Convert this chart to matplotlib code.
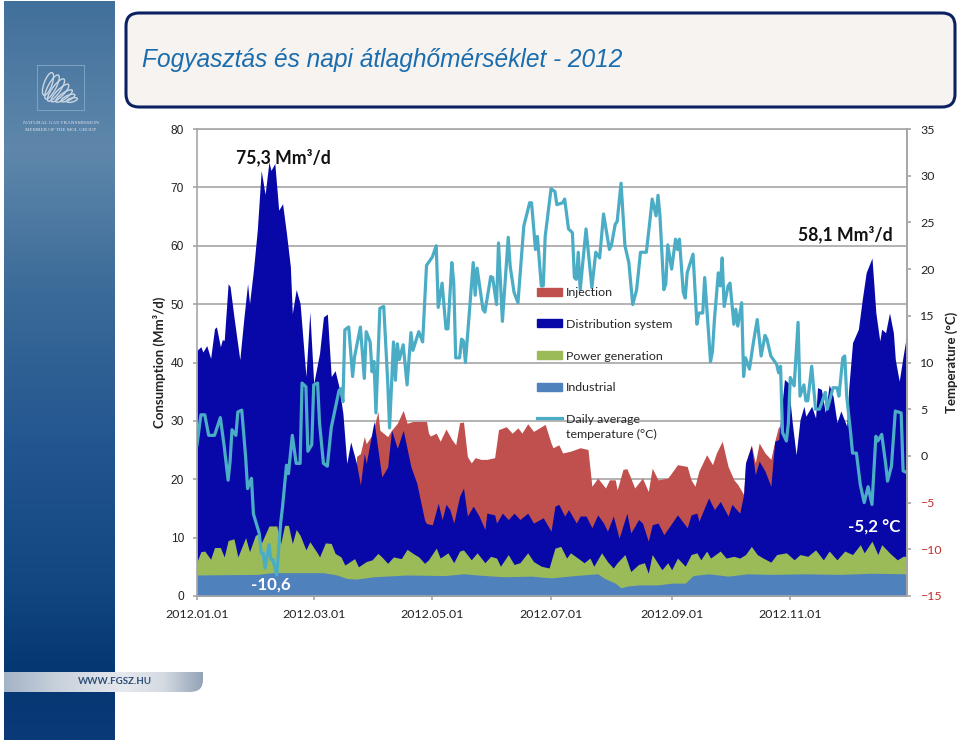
import matplotlib
matplotlib.use('Agg')
import matplotlib.pyplot as plt
import numpy as np
import pandas as pd
from matplotlib.colors import LinearSegmentedColormap
from matplotlib.lines import Line2D
from matplotlib.patches import Ellipse, FancyBboxPatch, PathPatch, Patch, Rectangle
from matplotlib.path import Path

plt.rcParams['font.family'] = ['Lato', 'DejaVu Sans']

# (day of 2012, value) - every series, stacked tops in Mm3/d
injection_top = [
    (82, 23.9), (84, 24.4), (86, 27.3), (87, 26.1), (90, 27.6), (93, 31.6), (94, 28.4), (98, 27.3),
    (100, 28.4), (103, 29.6), (106, 31.8), (108, 29.6), (111, 29.9), (113, 29.9), (118, 29.9), (119, 27.9),
    (120, 27.4), (123, 27.9), (125, 26.5), (128, 28.6), (131, 26.8), (133, 25.9), (135, 29.7), (137, 29.8),
    (139, 23.9), (141, 22.8), (143, 23.7), (146, 23.4), (149, 23.4), (153, 23.7), (155, 28.5), (159, 29.0),
    (162, 27.9), (165, 28.8), (167, 27.9), (170, 29.5), (173, 28.2), (176, 28.8), (179, 29.4), (182, 26.2),
    (183, 25.4), (186, 25.9), (188, 24.5), (192, 24.8), (197, 25.4), (201, 25.1), (203, 18.8), (206, 20.2),
    (210, 18.5), (212, 19.9), (215, 19.9), (216, 18.2), (219, 21.7), (221, 21.8), (223, 20.2), (225, 18.5),
    (229, 20.2), (232, 17.9), (234, 21.9), (237, 19.9), (242, 20.2), (244, 21.1), (247, 22.5), (252, 22.2),
    (254, 19.9), (256, 18.8), (258, 21.4), (262, 24.2), (265, 22.5), (267, 24.5), (270, 26.5), (273, 22.2),
    (276, 19.9), (278, 19.1), (281, 17.4), (282, 22.8), (285, 25.9), (287, 22.8), (289, 26.2), (292, 24.5),
    (295, 23.4), (297, 26.5), (299, 29.1), (301, 27.9),
]

distribution_top = [
    (0, 42.1), (2, 42.7), (3, 41.8), (5, 42.9), (7, 40.7), (9, 45.8), (10, 46.1), (12, 42.7), (13, 43.9),
    (14, 43.8), (16, 53.5), (17, 53.0), (19, 47.8), (22, 40.5), (24, 47.3), (26, 53.5), (27, 50.1), (29, 55.8),
    (31, 62.7), (33, 72.9), (35, 68.8), (37, 74.4), (38, 72.9), (40, 74.1), (42, 66.1), (44, 67.2), (46, 62.1),
    (48, 56.4), (49, 48.4), (51, 52.5), (53, 50.1), (56, 37.6), (58, 48.7), (60, 36.4), (63, 41.6), (65, 47.8),
    (67, 48.3), (69, 37.6), (71, 38.6), (73, 35.8), (75, 31.3), (77, 22.7), (79, 26.4), (82, 22.7), (84, 19.0),
    (86, 24.4), (87, 22.7), (91, 29.9), (95, 20.4), (98, 22.1), (100, 28.4), (103, 25.3), (106, 28.4), (110, 22.1),
    (113, 19.3), (117, 13.0), (118, 12.4), (121, 12.2), (124, 15.9), (126, 13.1), (128, 15.7), (130, 14.8),
    (132, 12.5), (135, 17.1), (137, 18.5), (139, 13.7), (142, 15.4), (145, 13.7), (148, 11.4), (149, 14.2),
    (153, 13.9), (154, 12.5), (157, 14.2), (160, 13.1), (163, 14.2), (166, 13.1), (170, 14.2), (173, 12.5),
    (178, 13.4), (182, 11.1), (184, 15.4), (186, 15.7), (189, 13.7), (191, 14.8), (195, 12.5), (197, 13.7),
    (200, 13.7), (203, 11.7), (206, 13.9), (209, 12.5), (211, 11.1), (214, 13.7), (217, 9.9), (221, 14.2),
    (223, 10.8), (227, 13.1), (229, 12.5), (232, 9.4), (234, 12.2), (237, 12.5), (240, 10.5), (247, 13.9),
    (252, 11.7), (254, 13.9), (257, 14.2), (258, 12.8), (263, 16.8), (266, 14.8), (269, 16.2), (273, 13.7),
    (275, 15.7), (279, 14.2), (281, 17.4), (282, 22.8), (285, 25.7), (287, 20.8), (289, 23.1), (292, 21.4),
    (295, 18.8), (297, 26.5), (299, 26.8), (302, 37.1), (304, 36.5), (306, 29.7), (308, 24.2), (310, 30.2),
    (312, 32.5), (313, 30.8), (316, 32.5), (318, 30.5), (319, 35.7), (321, 35.4), (323, 31.4), (325, 36.2),
    (327, 34.2), (329, 29.7), (331, 31.7), (334, 29.1), (335, 35.4), (337, 43.4), (340, 45.7), (342, 50.8),
    (344, 55.4), (347, 57.9), (349, 48.5), (351, 43.7), (352, 45.7), (354, 45.1), (356, 48.5), (358, 45.1),
    (359, 40.5), (361, 36.8), (363, 41.1), (365, 45.1),
]

power_top = [
    (0, 5.9), (2, 7.6), (4, 7.7), (7, 6.3), (9, 8.3), (12, 8.3), (14, 6.7), (16, 9.5), (19, 9.8), (21, 6.7),
    (25, 10.0), (27, 7.6), (30, 10.4), (32, 10.7), (33, 9.0), (37, 12.0), (41, 12.0), (43, 9.0), (45, 12.1),
    (47, 12.1), (49, 9.0), (51, 11.4), (53, 10.4), (56, 7.9), (58, 9.3), (62, 7.3), (63, 6.7), (66, 9.1),
    (69, 9.0), (71, 7.3), (74, 6.7), (76, 5.3), (81, 6.4), (83, 5.0), (87, 5.9), (90, 6.2), (93, 7.3), (95, 6.7),
    (98, 5.6), (101, 6.7), (105, 6.4), (108, 8.0), (111, 7.3), (114, 6.7), (117, 5.6), (119, 6.2), (123, 8.2),
    (125, 6.5), (129, 7.4), (132, 5.7), (135, 7.7), (137, 7.9), (141, 6.2), (144, 7.4), (148, 5.7), (151, 6.8),
    (154, 6.5), (156, 5.1), (160, 7.1), (163, 5.4), (166, 5.7), (170, 7.4), (173, 5.9), (177, 5.1), (181, 4.8),
    (184, 8.2), (187, 8.5), (190, 6.5), (192, 7.4), (197, 6.2), (199, 5.7), (202, 6.5), (204, 5.1), (208, 7.4),
    (211, 5.9), (214, 4.8), (216, 5.7), (220, 7.1), (223, 4.2), (227, 5.4), (230, 5.7), (232, 3.9), (234, 7.1),
    (239, 4.5), (242, 5.7), (244, 4.5), (247, 6.5), (251, 5.1), (254, 7.1), (257, 7.4), (259, 6.2), (262, 7.7),
    (264, 6.5), (269, 7.7), (272, 6.5), (276, 6.8), (279, 6.5), (282, 7.1), (285, 8.5), (288, 7.1), (291, 6.5),
    (295, 5.8), (298, 7.1), (303, 7.4), (307, 6.2), (310, 7.1), (314, 6.8), (318, 7.9), (322, 6.2), (325, 7.7),
    (329, 6.2), (333, 7.7), (337, 7.1), (341, 8.8), (343, 7.4), (347, 9.4), (350, 7.1), (352, 8.8), (356, 7.4),
    (360, 6.2), (363, 6.8), (365, 6.8),
]

industrial_top = [
    (0, 3.6), (31, 3.7), (39, 4.0), (65, 4.0), (72, 3.6), (77, 3.0), (82, 2.9), (91, 3.3), (108, 3.6), (127, 3.5),
    (137, 3.8), (148, 3.5), (158, 3.3), (172, 3.4), (182, 3.1), (194, 3.5), (206, 3.8), (209, 3.1), (215, 2.2),
    (218, 1.4), (221, 1.7), (227, 1.9), (237, 1.9), (244, 2.2), (251, 2.2), (255, 3.5), (263, 3.8), (273, 3.4),
    (283, 3.8), (295, 3.7), (313, 3.8), (330, 3.7), (347, 3.9), (365, 3.8),
]

temperature = [
    (0, 1.2), (2, 4.4), (4, 4.4), (6, 2.2), (9, 2.2), (12, 4.1), (14, 1.0), (16, -2.6), (17, -0.6), (18, 2.8),
    (20, 2.2), (21, 4.7), (23, 4.9), (25, -0.1), (26, -3.5), (28, -2.4), (29, -6.2), (32, -8.3), (33, -10.4),
    (34, -10.4), (35, -12.0), (37, -9.5), (38, -11.1), (39, -11.1), (41, -12.75), (43, -7.2), (44, -5.4), (46, -1.0),
    (47, -1.9), (49, 2.2), (51, -0.8), (53, -0.8), (54, 7.8), (56, 7.4), (57, 0.5), (59, 1.2), (60, 7.6), (62, 7.8),
    (63, 3.5), (65, -0.8), (67, -1.1), (69, 3.0), (73, 7.0), (74, 7.2), (75, 5.8), (76, 13.5), (78, 13.8), (80, 8.5),
    (81, 10.6), (84, 13.8), (86, 8.3), (87, 13.3), (89, 12.2), (90, 9.0), (91, 10.1), (92, 4.6), (94, 15.8), (96, 16.0),
    (98, 8.1), (99, 3.0), (101, 12.2), (102, 8.1), (103, 12.0), (104, 10.3), (106, 11.9), (108, 7.6), (110, 13.2),
    (111, 11.3), (114, 13.3), (116, 12.2), (118, 20.4), (121, 21.3), (123, 22.5), (124, 15.9), (126, 18.5), (128, 13.6),
    (129, 13.6), (131, 20.7), (132, 18.5), (133, 10.5), (135, 10.5), (136, 12.5), (137, 12.3), (138, 10.0), (142, 20.7),
    (143, 17.2), (144, 20.1), (147, 15.7), (148, 15.4), (151, 19.2), (152, 19.1), (154, 16.2), (155, 22.8), (157, 14.4),
    (160, 23.4), (161, 20.3), (163, 17.5), (165, 16.4), (168, 24.6), (171, 27.1), (172, 27.1), (174, 22.1), (175, 23.5),
    (177, 18.2), (178, 18.2), (179, 23.5), (182, 28.6), (184, 28.3), (185, 26.9), (188, 27.1), (189, 27.5), (191, 24.3),
    (193, 23.9), (194, 19.1), (195, 18.9), (196, 21.8), (197, 17.8), (200, 24.3), (203, 18.0), (205, 21.8), (207, 21.2),
    (209, 25.9), (212, 22.1), (213, 22.5), (215, 24.8), (216, 25.1), (218, 29.2), (220, 22.5), (222, 20.7), (224, 16.2),
    (226, 17.8), (228, 21.8), (231, 21.8), (233, 25.5), (234, 27.5), (236, 25.7), (237, 27.9), (238, 25.7), (240, 17.8),
    (241, 18.4), (242, 22.6), (244, 20.0), (246, 23.2), (247, 22.1), (248, 23.2), (250, 17.5), (251, 16.9), (252, 19.6),
    (255, 21.6), (257, 14.1), (258, 15.3), (260, 15.3), (261, 19.1), (264, 10.1), (265, 11.2), (266, 14.6), (268, 19.6),
    (269, 18.2), (270, 21.2), (271, 16.0), (273, 18.2), (274, 18.5), (276, 14.1), (277, 15.7), (278, 13.9), (280, 16.4),
    (281, 8.5), (282, 10.5), (284, 9.3), (286, 12.1), (288, 14.6), (290, 10.7), (292, 12.9), (293, 12.5), (295, 10.7),
    (298, 9.8), (299, 8.9), (300, 9.6), (301, 2.5), (303, 1.6), (304, 3.5), (305, 8.4), (307, 7.5), (309, 14.3),
    (310, 6.4), (312, 7.6), (313, 5.9), (314, 5.9), (316, 9.6), (318, 5.0), (320, 5.0), (323, 6.8), (324, 5.0), (327, 7.3),
    (329, 7.3), (330, 6.4), (332, 10.5), (333, 10.7), (334, 6.4), (336, 2.5), (337, 0.3), (339, 0.3), (341, -3.1),
    (343, -5.0), (345, -3.3), (347, -5.2), (349, 2.1), (350, 1.6), (352, 2.3), (354, -0.8), (355, -2.7), (357, -1.1),
    (359, 4.8), (362, 4.6), (363, -1.6), (365, -1.8),
]

date_ticks = ['2012-01-01', '2012-03-01', '2012-05-01', '2012-07-01', '2012-09-01', '2012-11-01']
left_ticks = [0, 10, 20, 30, 40, 50, 60, 70, 80]
right_ticks = [-15, -10, -5, 0, 5, 10, 15, 20, 25, 30, 35]


def to_series(points):
    days, values = zip(*points)
    return pd.Timestamp('2012-01-01') + pd.to_timedelta(days, unit='D'), np.array(values)


def draw_slide(bg):
    # Side panel of the slide
    panel = LinearSegmentedColormap.from_list('panel', [
        (0.0, '#41709C'), (0.2, '#5F87AB'), (0.4, '#3A6A98'), (0.6, '#235690'), (0.8, '#114680'),
        (0.91, '#053772'), (1.0, '#0A3A78')])
    bg.imshow(np.linspace(0, 1, 256).reshape(-1, 1), cmap=panel, extent=(4, 115, 740, 1), aspect='auto', zorder=1)

    # Logo
    bg.add_patch(Rectangle((37, 65), 47, 45, fill=False, edgecolor='#7FA3C2', linewidth=0.7, zorder=2))
    for cx, cy, w, h, angle in [(48, 84, 8, 24, 20), (52, 87, 8, 27, 28), (56, 90, 8, 27, 36),
                                (60, 93, 7, 24, 45), (64, 96, 6, 20, 55), (68, 98, 5, 15, 65), (72, 100, 4, 11, 75)]:
        bg.add_patch(Ellipse((cx, cy), w, h, angle=angle, fill=False, edgecolor='#C9D6E2', linewidth=1.0, zorder=2))
    bg.text(61, 123, 'NATURAL GAS TRANSMISSION', color='#DCE5EE', fontsize=3.8, ha='center', va='center',
            family=['Liberation Serif'], zorder=3)
    bg.text(61, 130, 'MEMBER OF THE MOL GROUP', color='#DCE5EE', fontsize=3.6, ha='center', va='center',
            family=['Liberation Serif'], zorder=3)

    # Silver band with the web address
    band = LinearSegmentedColormap.from_list('band', [
        (0.0, '#A3B3C7'), (0.25, '#C6CFDA'), (0.6, '#E6E9EE'), (0.8, '#D5DBE3'), (1.0, '#93A3B6')])
    img = bg.imshow(np.linspace(0, 1, 256).reshape(1, -1), cmap=band, extent=(4, 203, 692, 672),
                    aspect='auto', zorder=3)
    outline = Path([(4, 672), (203, 672), (203, 680), (203, 692), (190, 692), (4, 692), (4, 672)],
                   [Path.MOVETO, Path.LINETO, Path.LINETO, Path.CURVE3, Path.CURVE3, Path.LINETO, Path.CLOSEPOLY])
    clip = PathPatch(outline, transform=bg.transData, facecolor='none', edgecolor='none')
    bg.add_patch(clip)
    img.set_clip_path(clip)
    bg.text(115, 682, 'WWW.FGSZ.HU', color='#2F4F78', fontsize=7, weight='bold', ha='center', va='center', zorder=4)

    # Title box
    bg.add_patch(FancyBboxPatch((132, 19), 817, 82, boxstyle='round,pad=6,rounding_size=13',
                                facecolor='#F6F3F1', edgecolor='#0B2163', linewidth=2.2, zorder=2))
    bg.text(142, 60, 'Fogyasztás és napi átlaghőmérséklet - 2012', color='#1A6DAE', fontsize=17.68,
            style='italic', ha='left', va='center', family=['Liberation Sans'], zorder=3)


fig = plt.figure(figsize=(9.6, 7.4), dpi=100)

bg = fig.add_axes([0, 0, 1, 1], zorder=0)
bg.set_xlim(0, 960)
bg.set_ylim(740, 0)
bg.axis('off')
draw_slide(bg)
bg.set_xlim(0, 960)
bg.set_ylim(740, 0)

ax = fig.add_axes([197 / 960, (740 - 596) / 740, 710 / 960, 467 / 740], zorder=1)
ax.patch.set_alpha(0)

# Stacked tops, drawn back to front
for points, color in [(injection_top, '#C0504D'), (distribution_top, '#0808A8'),
                      (power_top, '#9BBB59'), (industrial_top, '#4F81BD')]:
    x, y = to_series(points)
    ax.fill_between(x, 0, y, color=color, linewidth=0)

ax.set_xlim(pd.Timestamp('2012-01-01'), pd.Timestamp('2012-12-31'))
ax.set_ylim(0, 80)
ax.set_yticks(left_ticks)
ax.set_xticks(pd.to_datetime(date_ticks))
ax.set_xticklabels([d.replace('-', '.') for d in date_ticks])
ax.grid(axis='y', color='#A6A6A6', linewidth=1.2)
ax.set_axisbelow(True)
ax.tick_params(axis='both', colors='#A6A6A6', labelcolor='#222222', labelsize=8.9, length=3, width=1.2, pad=6.5)
ax.tick_params(axis='y', labelfontfamily='Liberation Sans', labelsize=8.6)
for side in ['left', 'right', 'bottom', 'top']:
    ax.spines[side].set_color('#A6A6A6')
    ax.spines[side].set_linewidth(1.2)
ax.set_ylabel('Consumption (Mm³/d)', fontsize=9.5, weight='bold', color='#222222', labelpad=3)

ax2 = ax.twinx()
ax2.set_zorder(2)
x, y = to_series(temperature)
ax2.plot(x, y, color='#4BACC6', linewidth=2.3, solid_joinstyle='round')
ax2.set_ylim(-15, 35)
ax2.set_yticks(right_ticks)
ax2.tick_params(axis='y', colors='#A6A6A6', labelcolor='#222222', labelsize=8.9, length=3, width=1.2, pad=6.5)
for tick, lbl in zip(right_ticks, ax2.get_yticklabels()):
    if tick < 0:
        lbl.set_color('#C0302A')
for spine in ax2.spines.values():
    spine.set_visible(False)
ax2.spines['right'].set_visible(True)
ax2.spines['right'].set_color('#A6A6A6')
ax2.spines['right'].set_linewidth(1.2)
ax2.set_ylabel('Temperature (°C)', fontsize=9.5, weight='bold', color='#222222', labelpad=2.5)

handles = [Patch(color='#C0504D'), Patch(color='#0808A8'), Patch(color='#9BBB59'), Patch(color='#4F81BD'),
           Line2D([], [], color='#4BACC6', linewidth=2.3)]
labels = ['Injection', 'Distribution system', 'Power generation', 'Industrial', 'Daily average\ntemperature (°C)']
leg = ax2.legend(handles, labels, loc='upper left', bbox_to_anchor=(340 / 710, 1 - 158 / 467), frameon=False,
                 fontsize=8.9, labelcolor='#262626', handlelength=2.0, handleheight=0.6, handletextpad=0.33,
                 labelspacing=1.68, borderpad=0, borderaxespad=0)
for text in leg.get_texts():
    text.set_linespacing(1.45)
# The line sample sits beside the first line of its two-line label
sample = leg.get_lines()[0]
sample.set_ydata(np.asarray(sample.get_ydata()) + 7)

# Callouts
top = fig.add_axes([0, 0, 1, 1], zorder=3)
top.set_xlim(0, 960)
top.set_ylim(740, 0)
top.axis('off')
top.text(236, 157, '75,3 Mm³/d', fontsize=12.7, weight='bold', color='#111111', ha='left', va='center')
top.text(798, 234, '58,1 Mm³/d', fontsize=12.7, weight='bold', color='#111111', ha='left', va='center')
top.text(251, 585, '-10,6', fontsize=12.2, weight='bold', color='white', ha='left', va='center')
top.text(848, 527, '-5,2 °C', fontsize=12.2, weight='bold', color='white', ha='left', va='center')

fig.savefig('out.png', dpi=100)
